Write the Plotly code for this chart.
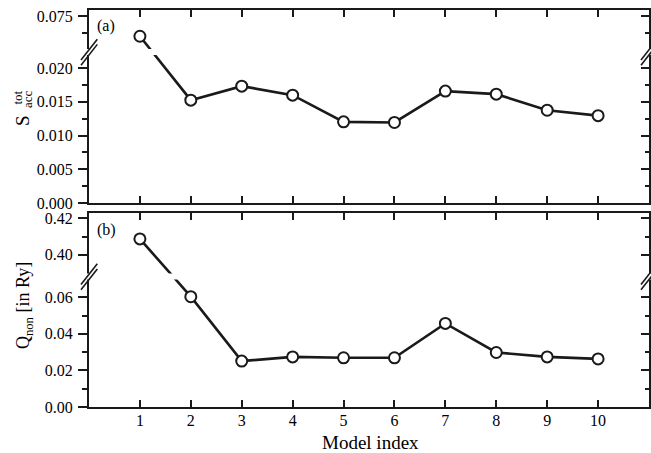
import plotly.graph_objects as go

# ---------------- data ----------------
model_index = [1, 2, 3, 4, 5, 6, 7, 8, 9, 10]
s_acc_tot = [0.0720, 0.01525, 0.01733, 0.01599, 0.01203, 0.01194, 0.01659, 0.01614, 0.01376, 0.01295]
q_non = [0.4087, 0.0603, 0.0251, 0.0274, 0.0269, 0.0269, 0.0457, 0.0298, 0.0274, 0.0263]

# broken-axis definitions: (lower segment top, upper segment bottom, upper segment top)
a_low_top, a_up_bot, a_up_top = 0.02238, 0.06965, 0.07589
b_low_top, b_up_bot, b_up_top = 0.0713, 0.3881, 0.4227

a_major = [0.000, 0.005, 0.010, 0.015, 0.020, 0.075]
a_major_text = ["0.000", "0.005", "0.010", "0.015", "0.020", "0.075"]
a_minor = [0.0025, 0.0075, 0.0125, 0.0175, 0.0725]
b_major = [0.00, 0.02, 0.04, 0.06, 0.40, 0.42]
b_major_text = ["0.00", "0.02", "0.04", "0.06", "0.40", "0.42"]
b_minor = [0.01, 0.03, 0.05, 0.41]
x_ticks = [1, 2, 3, 4, 5, 6, 7, 8, 9, 10]

FONT = "Liberation Serif, Times New Roman, serif"
INK = "#1a1a1a"


def to_disp(vals, low_top, up_bot):
    off = up_bot - low_top
    return [v if v <= low_top else v - off for v in vals]


a_disp = to_disp(s_acc_tot, a_low_top, a_up_bot)
b_disp = to_disp(q_non, b_low_top, b_up_bot)
a_range = [0, a_up_top - (a_up_bot - a_low_top)]
b_range = [0, b_up_top - (b_up_bot - b_low_top)]

W, H = 651, 453
ML, MR, MT, MB = 89, 2, 10, 46
PW, PH = W - ML - MR, H - MT - MB
a_dom = [0.5139, 1.0]
b_dom = [0.0, 0.4879]

fig = go.Figure()
line_style = dict(color=INK, width=2.6)
marker_style = dict(size=11, color="white", line=dict(color=INK, width=2))
fig.add_trace(go.Scatter(x=model_index, y=a_disp, mode="lines+markers", line=line_style,
                         marker=marker_style, xaxis="x", yaxis="y", showlegend=False))
fig.add_trace(go.Scatter(x=model_index, y=b_disp, mode="lines+markers", line=line_style,
                         marker=marker_style, xaxis="x2", yaxis="y2", showlegend=False))
# helper traces so right-side overlay axes render
fig.add_trace(go.Scatter(x=[None], y=[None], xaxis="x", yaxis="y3", showlegend=False, hoverinfo="skip"))
fig.add_trace(go.Scatter(x=[None], y=[None], xaxis="x2", yaxis="y4", showlegend=False, hoverinfo="skip"))

tickfont = dict(family=FONT, size=16, color="black")


def yleft(dom, rng, major, text, minor, low_top, up_bot):
    return dict(domain=dom, range=rng, tickmode="array",
                tickvals=to_disp(major, low_top, up_bot), ticktext=text,
                ticks="outside", ticklen=9, tickwidth=2, tickcolor=INK,
                minor=dict(tickmode="array", tickvals=to_disp(minor, low_top, up_bot),
                           ticks="outside", ticklen=5, tickwidth=2, tickcolor=INK, showgrid=False),
                showline=True, linewidth=2, linecolor=INK, showgrid=False, zeroline=False,
                tickfont=tickfont, ticklabelstandoff=2)


def yright(base, rng, major, minor, low_top, up_bot, anchor):
    return dict(overlaying=base, side="right", anchor=anchor, range=rng, tickmode="array",
                tickvals=to_disp(major, low_top, up_bot), ticks="inside", ticklen=8,
                tickwidth=2, tickcolor=INK,
                minor=dict(tickmode="array", tickvals=to_disp(minor, low_top, up_bot),
                           ticks="inside", ticklen=4, tickwidth=2, tickcolor=INK, showgrid=False),
                showticklabels=False, showline=True, linewidth=2, linecolor=INK,
                showgrid=False, zeroline=False)


def xax(anchor, labels):
    return dict(anchor=anchor, range=[0, 11], tickmode="array", tickvals=x_ticks,
                ticks="inside", ticklen=7, tickwidth=2, tickcolor=INK, mirror="ticks",
                showline=True, linewidth=2, linecolor=INK, showgrid=False, zeroline=False,
                showticklabels=labels, tickfont=tickfont, ticklabelstandoff=-2)


fig.update_layout(
    width=W, height=H, margin=dict(l=ML, r=MR, t=MT, b=MB),
    paper_bgcolor="white", plot_bgcolor="white",
    font=dict(family=FONT, color="black"),
    xaxis=xax("y", False), xaxis2=xax("y2", True),
    yaxis=yleft(a_dom, a_range, a_major, a_major_text, a_minor, a_low_top, a_up_bot),
    yaxis2=yleft(b_dom, b_range, b_major, b_major_text, b_minor, b_low_top, b_up_bot),
    yaxis3=yright("y", a_range, a_major, a_minor, a_low_top, a_up_bot, "x"),
    yaxis4=yright("y2", b_range, b_major, b_minor, b_low_top, b_up_bot, "x2"),
)


def px_x(p):
    return (p - ML) / PW


def px_y(p):
    return (H - MB - p) / PH


def val_to_paper(v, dom, rng):
    return dom[0] + (v - rng[0]) / (rng[1] - rng[0]) * (dom[1] - dom[0])


shapes = []
for dom, rng, brk in [(a_dom, a_range, a_low_top), (b_dom, b_range, b_low_top)]:
    yb = val_to_paper(brk, dom, rng)
    gap = 3 / PH
    shapes.append(dict(type="rect", xref="paper", yref="paper", x0=-4 / PW, x1=1 + 4 / PW,
                       y0=yb - gap, y1=yb + gap, fillcolor="white", line=dict(width=0),
                       layer="above"))
    for xc in [0.0, 1.0]:
        for dy in (-2.6, 2.6):
            shapes.append(dict(type="line", xref="paper", yref="paper",
                               x0=xc - 8 / PW, y0=yb + (dy - 10.5) / PH,
                               x1=xc + 8.3 / PW, y1=yb + (dy + 10.3) / PH,
                               line=dict(color=INK, width=1.6), layer="above"))
fig.update_layout(shapes=shapes)


def note(text, px, py, size, angle=0):
    return dict(text=text, x=px_x(px), y=px_y(py), xref="paper", yref="paper",
                xanchor="center", yanchor="middle", textangle=angle, showarrow=False,
                font=dict(family=FONT, size=size, color="black"))


ann = [
    note("(a)", 106, 26, 16),
    note("(b)", 106, 229.5, 16),
    note("S", 22, 121, 19, -90),
    note("tot", 17.5, 98, 13, -90),
    note("acc", 27, 99, 13, -90),
    note("Q<sub>non</sub> [in Ry]", 24, 306, 18, -90),
    note("Model index", 370, 442.7, 19),
]
fig.update_layout(annotations=ann)

fig.write_html("out.html")
